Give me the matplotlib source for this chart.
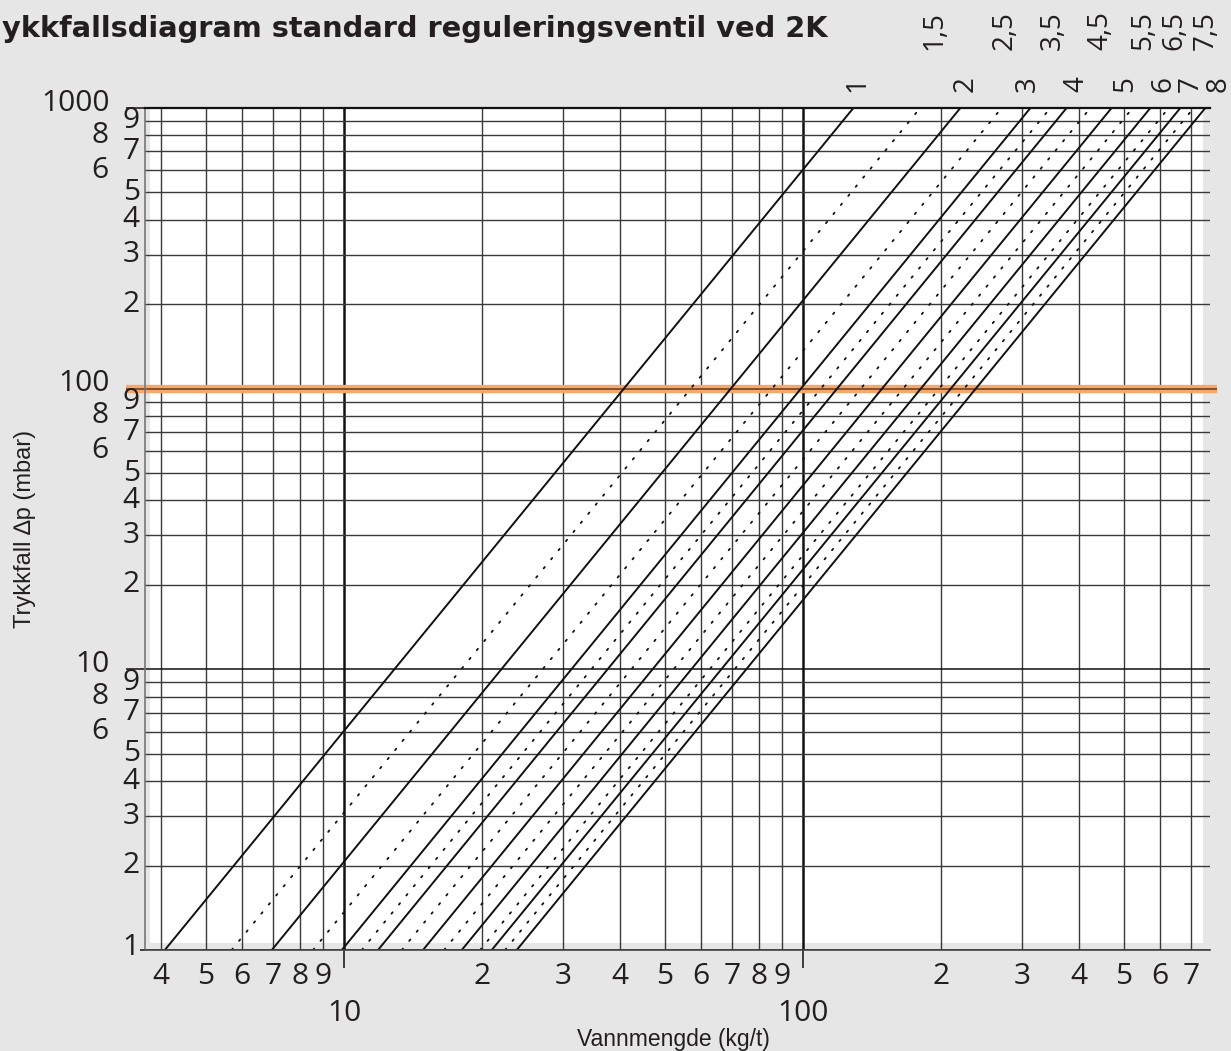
import numpy as np
import matplotlib
matplotlib.use("Agg")
import matplotlib.pyplot as plt
import matplotlib.transforms as mtransforms
from matplotlib.ticker import FixedLocator, FixedFormatter, NullFormatter

# ==============================
# DATA
# ==============================

# valve presetting -> flow (kg/t) at 1 mbar, line follows dp = (q / c)^2
settings = ["1", "1,5", "2", "2,5", "3", "3,5", "4", "4,5",
            "5", "5,5", "6", "6,5", "7", "7,5", "8"]
flow_at_1mbar = [4.07, 5.69, 6.96, 8.56, 9.89, 10.93, 11.86, 13.36,
                 14.86, 16.52, 18.05, 19.79, 20.98, 22.43, 23.78]
dotted = [False, True, False, True, False, True, False, True,
          False, True, False, True, False, True, False]

dp_range = [1, 1000]          # mbar
design_dp = 100               # orange line (mbar)

x_major = [10, 100]
x_major_labels = ["10", "100"]
x_minor = [4, 5, 6, 7, 8, 9, 20, 30, 40, 50, 60, 70, 80, 90,
           200, 300, 400, 500, 600, 700]
x_minor_labels = ["4", "5", "6", "7", "8", "9", "2", "3", "4", "5", "6", "7", "8", "9",
                  "2", "3", "4", "5", "6", "7"]

y_major = [1, 10, 100, 1000]
y_major_labels = ["1", "10", "100", "1000"]
y_minor = [d * m for d in (1, 10, 100) for m in range(2, 10)]
y_minor_labels = [str(m) for d in (1, 10, 100) for m in range(2, 10)]

# ==============================
# STYLE / LAYOUT
# ==============================
BG = "#e6e6e6"
INK = "#231f20"
GRID = "#3a3a3a"
W, H = 1231, 1051
TICK_FS = 21.5

# horizontal nudge (px) of the setting labels from the line's top end
label_nudge = [4, 14, 5, 3, -3, 2, 10, 10, 14, 11, 13, 6, 10, 12, 13]

plt.rcParams["font.family"] = ["Open Sans", "DejaVu Sans"]

fig = plt.figure(figsize=(W / 100, H / 100), dpi=100, facecolor=BG)
ax = fig.add_axes([145 / W, 101 / H, (1210 - 145) / W, (950 - 108) / H])
ax.set_facecolor("white")
ax.set_xscale("log")
ax.set_yscale("log")
ax.set_xlim(3.685, 770)
ax.set_ylim(1, 1000)

# grey margins inside the frame
ax.axhspan(1, 1.059, color=BG, lw=0, zorder=0.5)
ax.axvspan(3.685, 3.78, color=BG, lw=0, zorder=0.5)
ax.axvspan(743, 770, color=BG, lw=0, zorder=0.5)

# ticks
ax.xaxis.set_major_locator(FixedLocator(x_major))
ax.xaxis.set_major_formatter(FixedFormatter(x_major_labels))
ax.xaxis.set_minor_locator(FixedLocator(x_minor))
ax.xaxis.set_minor_formatter(FixedFormatter(x_minor_labels))
ax.yaxis.set_major_locator(FixedLocator(y_major))
ax.yaxis.set_major_formatter(NullFormatter())
ax.yaxis.set_minor_locator(FixedLocator(y_minor))
ax.yaxis.set_minor_formatter(NullFormatter())

ax.tick_params(axis="x", which="minor", length=0, pad=9, labelsize=TICK_FS, labelcolor=INK)
ax.tick_params(axis="x", which="major", length=13, width=1.2, color=INK,
               pad=22, labelsize=TICK_FS, labelcolor=INK)
ax.tick_params(axis="y", which="minor", length=0)
ax.tick_params(axis="y", which="major", length=14, width=1.2, color=INK)
# short tick at 1 mbar
ax.yaxis.get_major_ticks()[0].tick1line.set_markersize(3.5)

# grid
ax.grid(which="minor", color=GRID, lw=1.0, zorder=1)
ax.grid(which="major", axis="y", color="#111111", lw=1.1, zorder=1)
ax.grid(which="major", axis="x", color="#111111", lw=1.8, zorder=1)
ax.set_axisbelow(True)

ax.spines["right"].set_visible(False)
ax.spines["top"].set_color("#111111")
ax.spines["top"].set_linewidth(1.6)
ax.spines["bottom"].set_color("#444444")
ax.spines["bottom"].set_linewidth(1.2)
ax.spines["left"].set_color("#777777")
ax.spines["left"].set_linewidth(1.2)

# y tick labels (two columns like the original)
ylab = mtransforms.blended_transform_factory(ax.transAxes, ax.transData)
for v, t in zip(y_major, y_major_labels):
    if t == "1":
        ax.text(-0.013, v * 10 ** (3 / 280.7), t, transform=ylab, ha="center",
                va="center", fontsize=TICK_FS, color=INK)
    else:
        ax.text(-0.033, v * 10 ** (5 / 280.7), t, transform=ylab, ha="right",
                va="center", fontsize=TICK_FS, color=INK)
for v, t in zip(y_minor, y_minor_labels):
    xpos = -0.042 if t in ("8", "6") else -0.013
    ax.text(xpos, v, t, transform=ylab, ha="center", va="center",
            fontsize=TICK_FS, color=INK)

# design pressure line (orange)
ax.axhline(design_dp, xmin=-0.018, xmax=1.0066, color="#f5a86a", lw=6,
           clip_on=False, zorder=1.6, solid_capstyle="butt")
ax.axhline(design_dp, xmin=-0.018, xmax=1.0066, color="#7a4a2a", lw=1.3,
           clip_on=False, zorder=1.7, solid_capstyle="butt")

# valve lines
dp = np.array(dp_range, dtype=float)
for c, dot in zip(flow_at_1mbar, dotted):
    q = c * np.sqrt(dp)
    if dot:
        ax.plot(q, dp, color="#111111", lw=1.3, ls=(0, (1, 5.5)),
                dash_capstyle="round", zorder=2)
    else:
        ax.plot(q, dp, color="#111111", lw=1.4, zorder=2)

# setting labels above the frame
top_tr = mtransforms.blended_transform_factory(ax.transData, ax.transAxes)
for c, t, dot, nudge in zip(flow_at_1mbar, settings, dotted, label_nudge):
    q_top = c * np.sqrt(dp_range[1])
    tr = mtransforms.offset_copy(top_tr, fig=fig, x=nudge, y=0, units="dots")
    ypos = 1.0915 if dot else 1.0285
    ax.text(q_top, ypos, t, transform=tr, rotation=90, ha="center",
            va="center", fontsize=20, color=INK, clip_on=False)

# axis titles
fig.text(25 / W, 1 - 529 / H, "Trykkfall \u2206p (mbar)", rotation=90,
         ha="center", va="center", fontsize=17, color=INK,
         family=["Liberation Sans", "DejaVu Sans"])
fig.text(673 / W, 1 - 1046 / H, "Vannmengde (kg/t)", ha="center",
         va="baseline", fontsize=16.5, color=INK,
         family=["Liberation Sans", "DejaVu Sans"])

# title (the visible part of it, as in the original)
fig.text(2 / W, 1 - 37 / H,
         "ykkfallsdiagram standard reguleringsventil ved 2K",
         ha="left", va="baseline", fontsize=20.8, fontweight="bold",
         color=INK, family=["DejaVu Sans"])

fig.savefig("out.png", dpi=100, facecolor=BG)
